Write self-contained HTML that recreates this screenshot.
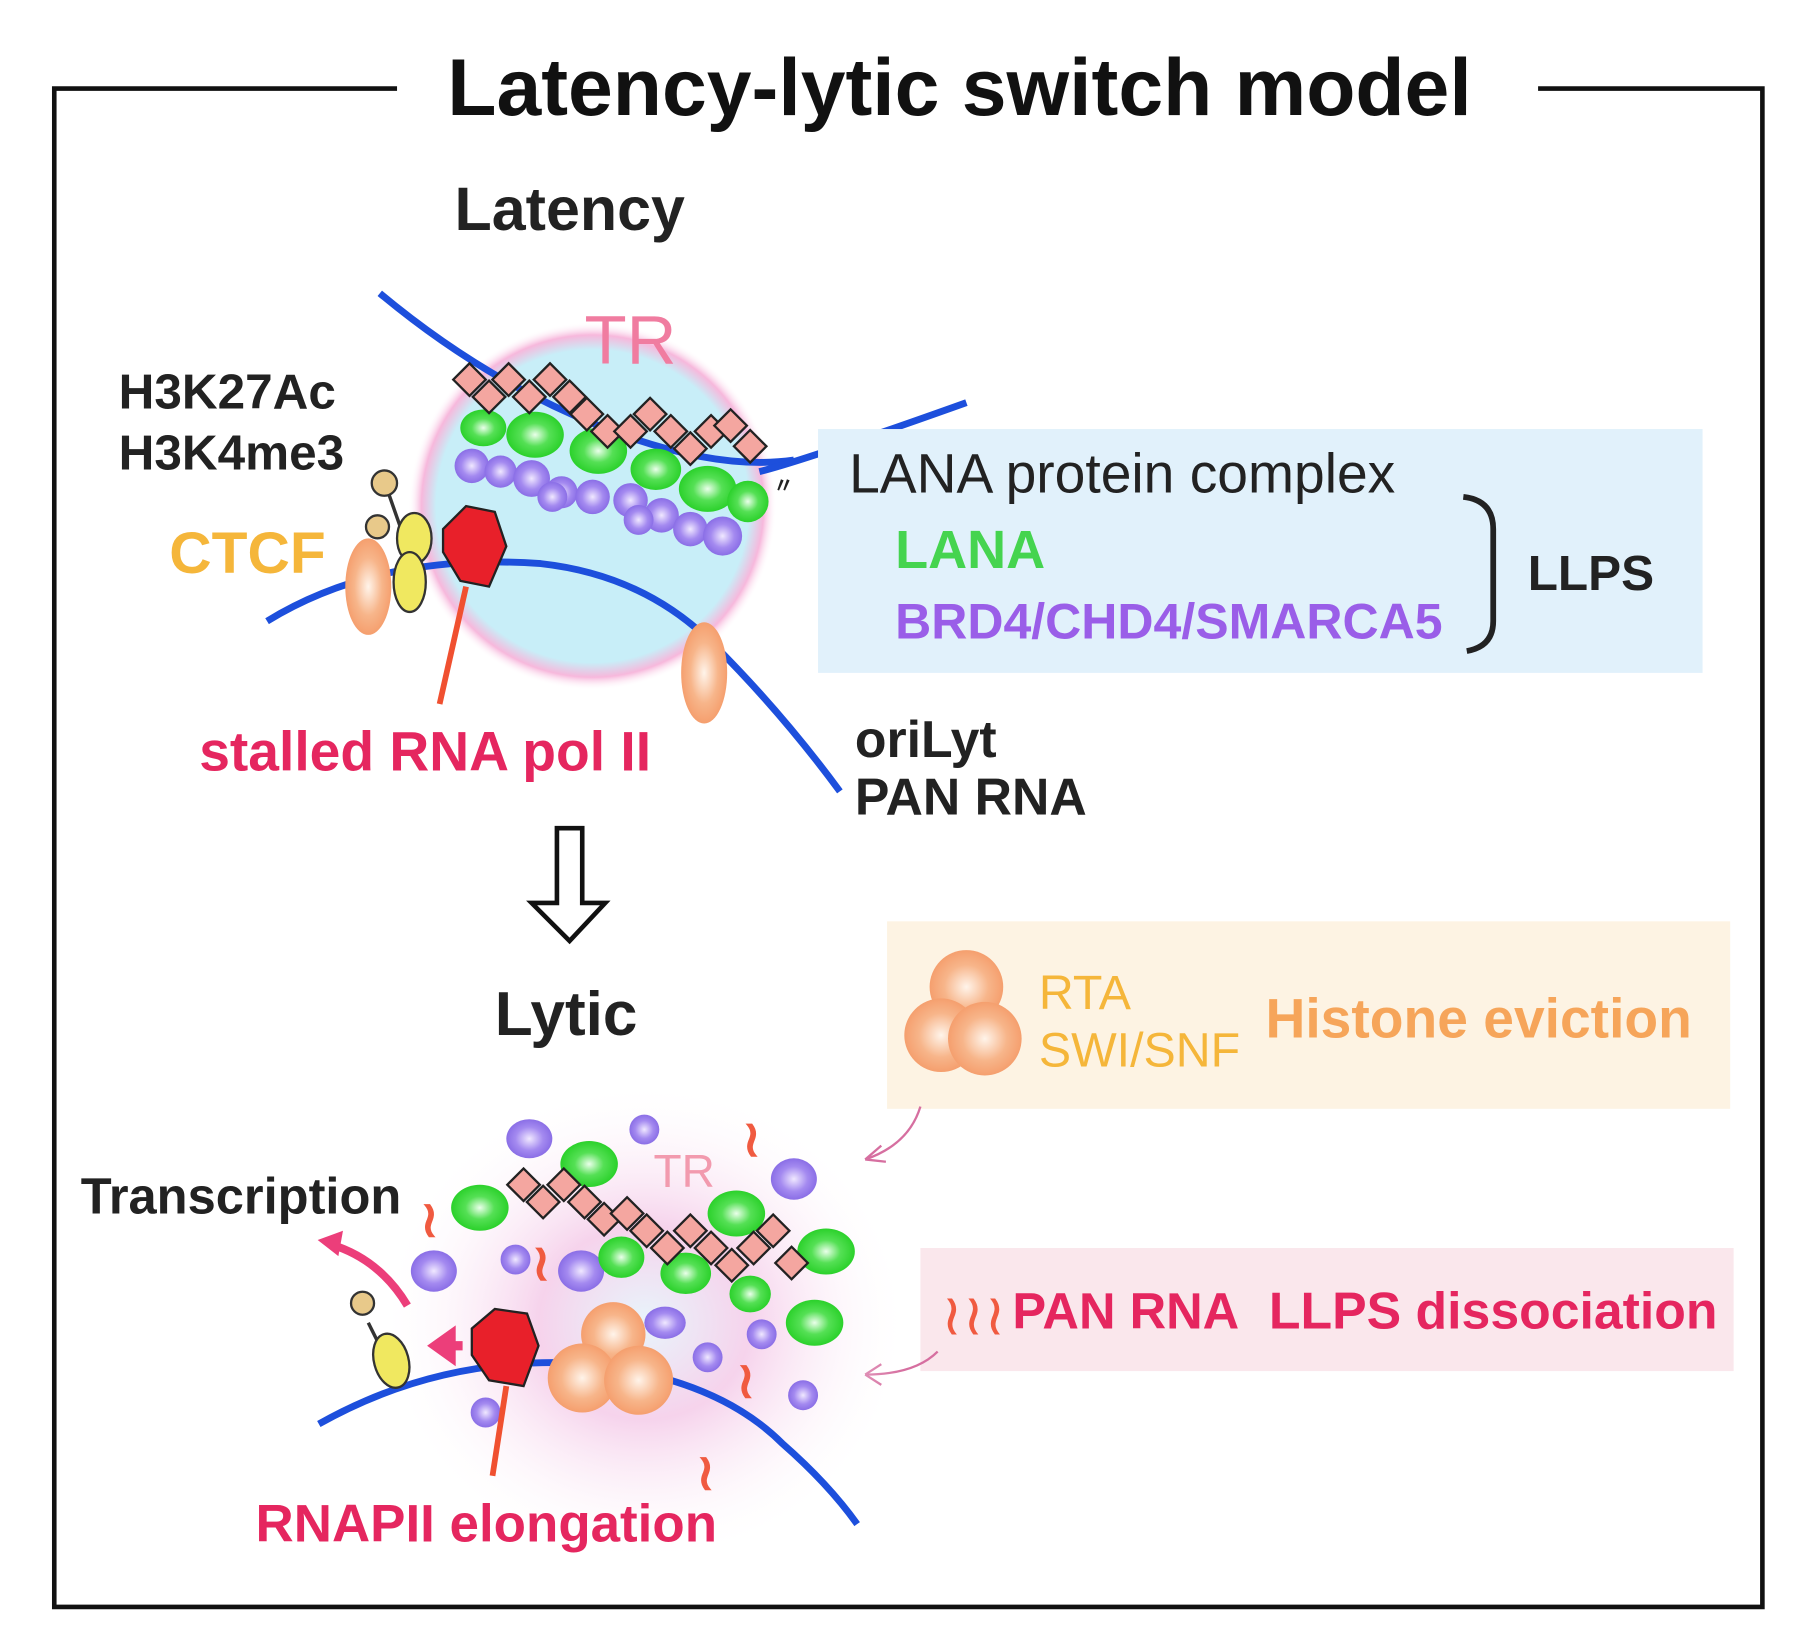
<!DOCTYPE html>
<html><head><meta charset="utf-8"><style>
html,body{margin:0;padding:0;background:#fff;width:1804px;height:1646px;overflow:hidden}
svg{display:block}
text{font-family:"Liberation Sans",sans-serif;font-weight:bold}
</style></head><body>
<svg width="1804" height="1646" viewBox="0 0 1568 1431" xmlns="http://www.w3.org/2000/svg">
<defs>
<radialGradient id="glow1" cx="50%" cy="50%" r="50%">
<stop offset="0.85" stop-color="#c8eef8"/><stop offset="0.93" stop-color="#f7b8dc"/><stop offset="1" stop-color="#fff" stop-opacity="0"/>
</radialGradient>
<radialGradient id="glow2" cx="50%" cy="50%" r="50%">
<stop offset="0" stop-color="#e8f4fb"/><stop offset="0.4" stop-color="#f6d3ec"/><stop offset="1" stop-color="#fff" stop-opacity="0"/>
</radialGradient>
<radialGradient id="gr" cx="50%" cy="50%" r="50%"><stop offset="0" stop-color="#eaffea"/><stop offset="0.5" stop-color="#55e055"/><stop offset="1" stop-color="#2bd12b"/></radialGradient>
<radialGradient id="pu" cx="50%" cy="50%" r="50%"><stop offset="0" stop-color="#f0e8ff"/><stop offset="0.6" stop-color="#a48af0"/><stop offset="1" stop-color="#8a6ee6"/></radialGradient>
<radialGradient id="or" cx="50%" cy="50%" r="50%"><stop offset="0" stop-color="#fff4ea"/><stop offset="0.6" stop-color="#f7b58a"/><stop offset="1" stop-color="#f59f6e"/></radialGradient>
<g id="sq"><rect x="-10" y="-10" width="20" height="20" fill="#f4a6a0" stroke="#222" stroke-width="2" transform="rotate(45)"/></g>
</defs>
<path d="M345 77 H47 V1397 H1532 V77 H1337" fill="none" stroke="#111" stroke-width="4"/>
<text x="834" y="100" font-size="70" text-anchor="middle" fill="#111">Latency-lytic switch model</text>
<text x="395" y="200" font-size="53" fill="#222">Latency</text>

<circle cx="515" cy="440" r="160" fill="url(#glow1)"/>
<path d="M330 255 Q420 330 520 370 T690 400" stroke="#1d4fdc" stroke-width="6" fill="none"/>
<path d="M660 410 Q700 400 840 350" stroke="#1d4fdc" stroke-width="6" fill="none"/>
<path d="M232 540 Q330 480 470 490 Q560 500 620 560 Q680 620 730 688" stroke="#1d4fdc" stroke-width="6" fill="none"/>
<text x="508" y="316" font-size="60" fill="#f07ca0" style="font-weight:normal">TR</text>
<g fill="url(#gr)">
<ellipse cx="420" cy="372" rx="20" ry="16"/><ellipse cx="465" cy="378" rx="25" ry="20"/><ellipse cx="520" cy="392" rx="25" ry="20"/><ellipse cx="570" cy="408" rx="22" ry="18"/><ellipse cx="615" cy="425" rx="25" ry="20"/><ellipse cx="650" cy="436" rx="18" ry="18"/></g>
<g fill="url(#pu)">
<circle cx="410" cy="405" r="15"/><circle cx="435" cy="410" r="14"/><circle cx="462" cy="416" r="16"/><circle cx="488" cy="428" r="14"/><circle cx="515" cy="432" r="15"/><circle cx="548" cy="435" r="15"/><circle cx="575" cy="448" r="15"/><circle cx="600" cy="460" r="15"/><circle cx="628" cy="466" r="17"/><circle cx="480" cy="432" r="13"/><circle cx="555" cy="452" r="13"/></g>
<g>
<use href="#sq" x="408" y="330"/><use href="#sq" x="425" y="345"/><use href="#sq" x="442" y="330"/><use href="#sq" x="460" y="345"/><use href="#sq" x="478" y="330"/><use href="#sq" x="495" y="345"/><use href="#sq" x="510" y="360"/><use href="#sq" x="528" y="375"/><use href="#sq" x="548" y="375"/><use href="#sq" x="565" y="360"/><use href="#sq" x="583" y="375"/><use href="#sq" x="600" y="390"/><use href="#sq" x="618" y="375"/><use href="#sq" x="635" y="370"/><use href="#sq" x="652" y="388"/></g>
<text x="672" y="428" font-size="18" fill="#222">〃</text>
<ellipse cx="320" cy="510" rx="20" ry="42" fill="url(#or)"/>
<ellipse cx="612" cy="585" rx="20" ry="44" fill="url(#or)"/>
<line x1="338" y1="430" x2="352" y2="470" stroke="#333" stroke-width="3"/>
<circle cx="334" cy="420" r="11" fill="#e8c98a" stroke="#333" stroke-width="2"/>
<circle cx="328" cy="458" r="10" fill="#e8c98a" stroke="#333" stroke-width="2"/>
<ellipse cx="360" cy="468" rx="15" ry="22" fill="#f0e860" stroke="#333" stroke-width="2"/>
<ellipse cx="356" cy="506" rx="14" ry="26" fill="#f0e860" stroke="#333" stroke-width="2"/>
<path d="M385 460 L405 440 L430 445 L440 475 L425 510 L400 505 L385 480Z" fill="#e8202a" stroke="#222" stroke-width="2"/>
<line x1="405" y1="510" x2="382" y2="612" stroke="#f05030" stroke-width="5"/>
<text x="103" y="355" font-size="43" fill="#222">H3K27Ac</text>
<text x="103" y="408" font-size="43" fill="#222">H3K4me3</text>
<text x="147" y="498" font-size="51" fill="#f5b63a">CTCF</text>
<text x="173" y="670" font-size="48" fill="#e5265f">stalled RNA pol II</text>
<text x="743" y="658" font-size="45" fill="#222">oriLyt</text>
<text x="743" y="708" font-size="45" fill="#222">PAN RNA</text>

<rect x="711" y="373" width="769" height="212" fill="#e1f1fb"/>
<text x="738" y="428" font-size="48" fill="#222" style="font-weight:normal">LANA protein complex</text>
<text x="778" y="494" font-size="47" fill="#45d44f">LANA</text>
<text x="778" y="555" font-size="43.5" fill="#9a5ee8">BRD4/CHD4/SMARCA5</text>
<path d="M1272 432 Q1298 435 1298 460 V540 Q1298 562 1275 566" fill="none" stroke="#222" stroke-width="5"/>
<text x="1328" y="513" font-size="43" fill="#222">LLPS</text>

<path d="M484 720 H506 V785 H526 L495 818 L462 785 H484 Z" fill="#fff" stroke="#111" stroke-width="4"/>
<text x="430" y="900" font-size="54" fill="#222">Lytic</text>

<rect x="771" y="801" width="733" height="163" fill="#fdf3e3"/>
<circle cx="840" cy="858" r="32" fill="url(#or)"/><circle cx="818" cy="900" r="32" fill="url(#or)"/><circle cx="856" cy="903" r="32" fill="url(#or)"/>
<text x="903" y="877" font-size="42" fill="#f5b63a" style="font-weight:normal">RTA</text>
<text x="903" y="927" font-size="42" fill="#f5b63a" style="font-weight:normal">SWI/SNF</text>
<text x="1100" y="902" font-size="48" fill="#f6a55a">Histone eviction</text>
<path d="M800 962 Q790 995 752 1008" fill="none" stroke="#d66fa0" stroke-width="2"/>
<path d="M752 1008 l14 -12 M752 1008 l18 2" stroke="#d66fa0" stroke-width="2"/>

<rect x="800" y="1085" width="707" height="107" fill="#fae7ec"/>
<text x="818" y="1160" font-size="50" fill="#f05a40" style="font-weight:normal">≀≀≀</text>
<text x="880" y="1155" font-size="44" fill="#e5265f">PAN RNA</text>
<text x="1103" y="1155" font-size="45" fill="#e5265f">LLPS dissociation</text>
<path d="M815 1175 Q795 1195 752 1195" fill="none" stroke="#d66fa0" stroke-width="2"/>
<path d="M752 1195 l14 -9 M752 1195 l14 9" stroke="#d66fa0" stroke-width="2"/>

<ellipse cx="560" cy="1150" rx="230" ry="210" fill="url(#glow2)"/>
<path d="M277 1238 Q380 1180 500 1185 Q620 1195 680 1255 Q720 1290 745 1325" stroke="#1d4fdc" stroke-width="6" fill="none"/>
<g fill="url(#pu)">
<ellipse cx="460" cy="990" rx="20" ry="17"/><circle cx="560" cy="982" r="13"/><ellipse cx="690" cy="1025" rx="20" ry="18"/><ellipse cx="377" cy="1105" rx="20" ry="18"/><circle cx="448" cy="1095" r="13"/><ellipse cx="505" cy="1105" rx="20" ry="18"/><ellipse cx="578" cy="1150" rx="18" ry="14"/><circle cx="662" cy="1160" r="13"/><circle cx="615" cy="1180" r="13"/><circle cx="698" cy="1213" r="13"/><circle cx="422" cy="1228" r="13"/></g>
<g fill="url(#gr)">
<ellipse cx="512" cy="1012" rx="25" ry="20"/><ellipse cx="417" cy="1050" rx="25" ry="20"/><ellipse cx="640" cy="1055" rx="25" ry="20"/><ellipse cx="718" cy="1088" rx="25" ry="20"/><ellipse cx="540" cy="1093" rx="20" ry="18"/><ellipse cx="596" cy="1107" rx="22" ry="18"/><ellipse cx="652" cy="1125" rx="18" ry="16"/><ellipse cx="708" cy="1150" rx="25" ry="20"/></g>
<g>
<use href="#sq" x="455" y="1030"/><use href="#sq" x="472" y="1045"/><use href="#sq" x="490" y="1030"/><use href="#sq" x="508" y="1045"/><use href="#sq" x="525" y="1060"/><use href="#sq" x="545" y="1055"/><use href="#sq" x="562" y="1070"/><use href="#sq" x="580" y="1085"/><use href="#sq" x="600" y="1070"/><use href="#sq" x="618" y="1085"/><use href="#sq" x="636" y="1100"/><use href="#sq" x="655" y="1085"/><use href="#sq" x="672" y="1070"/><use href="#sq" x="688" y="1098"/></g>
<text x="568" y="1032" font-size="40" fill="#f29aae" style="font-weight:normal">TR</text>
<circle cx="533" cy="1160" r="28" fill="url(#or)"/><circle cx="506" cy="1198" r="30" fill="url(#or)"/><circle cx="555" cy="1200" r="30" fill="url(#or)"/>
<g fill="#f05a40" font-size="44" style="font-weight:normal">
<text x="645" y="1005">≀</text><text x="365" y="1075">≀</text><text x="462" y="1113">≀</text><text x="640" y="1215">≀</text><text x="605" y="1295">≀</text></g>
<line x1="320" y1="1150" x2="334" y2="1178" stroke="#333" stroke-width="3"/>
<circle cx="315" cy="1133" r="10" fill="#e8c98a" stroke="#333" stroke-width="2"/>
<ellipse cx="340" cy="1183" rx="15" ry="24" fill="#f0e860" stroke="#333" stroke-width="2" transform="rotate(-15 340 1183)"/>
<path d="M410 1155 L430 1138 L458 1142 L468 1170 L455 1205 L425 1200 L410 1178Z" fill="#e8202a" stroke="#222" stroke-width="2"/>
<line x1="440" y1="1205" x2="428" y2="1283" stroke="#f05030" stroke-width="5"/>
<path d="M402 1170 H378 M378 1170 l14 -10 v20Z" stroke="#ec3e7a" stroke-width="8" fill="#ec3e7a"/>
<path d="M354 1135 Q330 1095 288 1082" fill="none" stroke="#ec3e7a" stroke-width="7"/>
<path d="M276 1078 l22 -8 l-4 22Z" fill="#ec3e7a"/>
<text x="70" y="1055" font-size="44" fill="#222">Transcription</text>
<text x="222" y="1340" font-size="46" fill="#e5265f">RNAPII elongation</text>
</svg>
</body></html>
